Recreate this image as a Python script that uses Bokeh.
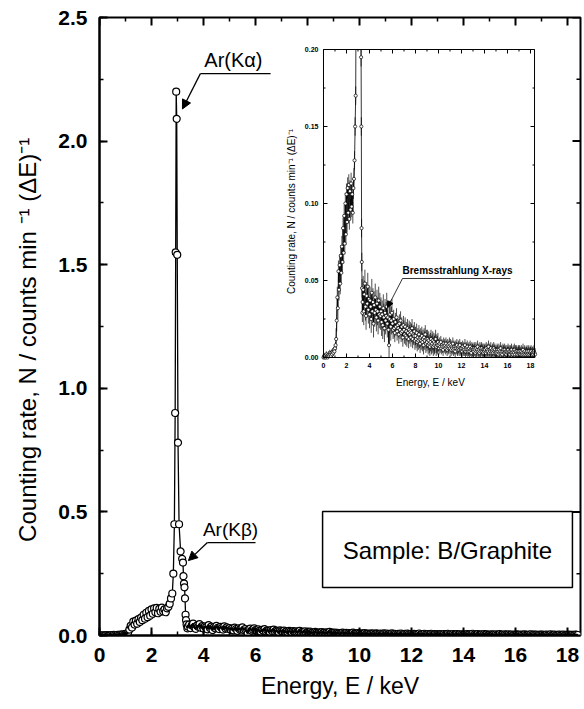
import numpy as np
from bokeh.plotting import figure
from bokeh.models import (Range1d, SingleIntervalTicker, NumeralTickFormatter,
                          Label, Arrow, NormalHead, BoxAnnotation, ColumnDataSource)
from bokeh.core.properties import value
from bokeh.embed import file_html
from bokeh.resources import INLINE

FONT = "Liberation Sans"

# ---------------- data ----------------
# 0.05 keV channels, 0.00 - 2.65 keV
rate_grid_low = [
    0.000, 0.001, 0.000, 0.001, 0.000, 0.002, 0.001, 0.000, 0.001, 0.002, 0.001,
    0.003, 0.002, 0.001, 0.003, 0.002, 0.004, 0.003, 0.005, 0.004, 0.006, 0.008,
    0.012, 0.024, 0.039, 0.032, 0.056, 0.044, 0.060, 0.048, 0.066, 0.055, 0.072,
    0.062, 0.084, 0.068, 0.092, 0.074, 0.100, 0.080, 0.106, 0.088, 0.110, 0.094,
    0.112, 0.090, 0.108, 0.096, 0.113, 0.098, 0.106, 0.094, 0.110, 0.116,
]
energy_grid_low = [round(0.05 * i, 2) for i in range(len(rate_grid_low))]

# Ar K-alpha / K-beta region (irregular channels)
energy_peak = [2.70, 2.75, 2.80, 2.84, 2.88, 2.91, 2.93, 2.95, 2.97, 2.99, 3.02, 3.06,
               3.12, 3.18, 3.21, 3.23, 3.25, 3.27, 3.29, 3.31, 3.33, 3.35, 3.38]
rate_peak = [0.128, 0.150, 0.170, 0.250, 0.450, 0.900, 1.550, 2.200, 2.090, 1.540, 0.780, 0.450,
             0.340, 0.310, 0.295, 0.240, 0.210, 0.195, 0.150, 0.084, 0.062, 0.045, 0.029]

# 0.05 keV channels from 3.40 keV upward (Bremsstrahlung continuum)
rate_high = [
    0.036, 0.044, 0.030, 0.041, 0.048, 0.033, 0.027, 0.040, 0.035, 0.046, 0.031, 0.038,  # 3.40-3.95
    0.028, 0.037, 0.033, 0.025, 0.042, 0.030, 0.036, 0.022, 0.034, 0.029,
    0.039, 0.031, 0.026, 0.035, 0.030, 0.024, 0.037, 0.028, 0.033, 0.027,  # 4.x
    0.030, 0.023, 0.028, 0.021, 0.032, 0.026, 0.019, 0.029, 0.024, 0.027,
    0.033, 0.022, 0.026, 0.018, 0.008, 0.025, 0.028, 0.020, 0.024, 0.029,  # 5.x
    0.022, 0.018, 0.025, 0.019, 0.016, 0.023, 0.020, 0.026, 0.017, 0.021,
    0.019, 0.015, 0.022, 0.018, 0.024, 0.016, 0.020, 0.017, 0.013, 0.021,  # 6.x
    0.018, 0.015, 0.020, 0.014, 0.017, 0.013, 0.019, 0.016, 0.012, 0.018,
    0.015, 0.017, 0.013, 0.016, 0.019, 0.012, 0.015, 0.014, 0.017, 0.011,  # 7.x
    0.014, 0.012, 0.016, 0.010, 0.013, 0.011, 0.015, 0.012, 0.009, 0.013,
    0.011, 0.014, 0.010, 0.012, 0.008, 0.013, 0.011, 0.015, 0.009, 0.012,  # 8.x
    0.010, 0.012, 0.008, 0.011, 0.009, 0.007, 0.010, 0.012, 0.008, 0.009,
    0.011, 0.007, 0.010, 0.008, 0.009, 0.012, 0.007, 0.009, 0.008, 0.010,  # 9.x
    0.008, 0.006, 0.009, 0.007, 0.010, 0.006, 0.008, 0.007, 0.005, 0.009,
    0.007, 0.008, 0.006, 0.009, 0.007, 0.005, 0.008, 0.006, 0.007, 0.009,  # 10.x
    0.006, 0.008, 0.005, 0.007, 0.006, 0.009, 0.005, 0.007, 0.006, 0.004,
    0.007, 0.006, 0.008, 0.005, 0.006, 0.007, 0.005, 0.008, 0.006, 0.005,  # 11.x
    0.006, 0.004, 0.007, 0.005, 0.006, 0.005, 0.008, 0.004, 0.006, 0.005,
    0.007, 0.004, 0.005, 0.006, 0.004, 0.007, 0.005, 0.003, 0.006, 0.005,  # 12.x
    0.005, 0.004, 0.006, 0.005, 0.003, 0.006, 0.004, 0.005, 0.007, 0.004,
    0.005, 0.003, 0.006, 0.004, 0.005, 0.006, 0.004, 0.005, 0.003, 0.005,  # 13.x
    0.004, 0.005, 0.003, 0.006, 0.004, 0.005, 0.004, 0.007, 0.003, 0.005,
    0.004, 0.006, 0.003, 0.004, 0.005, 0.003, 0.006, 0.004, 0.005, 0.003,  # 14.x
    0.004, 0.003, 0.005, 0.004, 0.002, 0.005, 0.003, 0.004, 0.006, 0.003,
    0.004, 0.002, 0.005, 0.004, 0.003, 0.005, 0.003, 0.004, 0.002, 0.004,  # 15.x
    0.003, 0.005, 0.003, 0.004, 0.002, 0.004, 0.003, 0.005, 0.003, 0.002,
    0.004, 0.003, 0.005, 0.002, 0.004, 0.003, 0.004, 0.002, 0.003, 0.004,  # 16.x
    0.003, 0.004, 0.002, 0.003, 0.004, 0.002, 0.003, 0.005, 0.002, 0.003,
    0.004, 0.002, 0.003, 0.003, 0.004, 0.002, 0.003, 0.004, 0.002, 0.003,  # 17.x
    0.003, 0.004, 0.002, 0.003, 0.003, 0.002, 0.004, 0.003, 0.002,         # 18.00-18.40
]
energy_high = [round(3.4 + 0.05 * i, 2) for i in range(len(rate_high))]

# inset error-bar half widths, by energy band
err_edges = [0.0, 1.08, 2.68, 3.39, 6.0, 10.0, 18.5]
err_values = [0.002, 0.007, 0.006, 0.009, 0.006, 0.004]

main_x_major = [0, 2, 4, 6, 8, 10, 12, 14, 16, 18]
main_x_minor = [1, 3, 5, 7, 9, 11, 13, 15, 17]
main_y_major = [0.0, 0.5, 1.0, 1.5, 2.0, 2.5]
main_y_minor = [0.25, 0.75, 1.25, 1.75, 2.25]
inset_x_ticks = [0, 2, 4, 6, 8, 10, 12, 14, 16, 18]
inset_y_ticks = [0.00, 0.05, 0.10, 0.15, 0.20]
inset_y_labels = ["0.00", "0.05", "0.10", "0.15", "0.20"]

E = np.array(energy_grid_low + energy_peak + energy_high, dtype=float)
R = np.array(rate_grid_low + rate_peak + rate_high, dtype=float)

# ---------------- main figure ----------------
X0, X1, Y0, Y1 = 0, 18.5, 0, 2.5
p = figure(width=584, height=709, x_range=Range1d(X0, X1), y_range=Range1d(Y0, Y1),
           output_backend="svg", toolbar_location=None,
           min_border_left=99, min_border_right=4, min_border_top=17, min_border_bottom=74,
           background_fill_color="white", border_fill_color="white")
p.grid.visible = False
p.outline_line_color = "black"
p.outline_line_width = 2

for ax in (p.xaxis[0], p.yaxis[0]):
    ax.axis_line_width = 2
    ax.major_tick_line_width = 2
    ax.minor_tick_line_width = 1.5
    ax.major_tick_in = 8
    ax.major_tick_out = 0
    ax.minor_tick_in = 4
    ax.minor_tick_out = 0
    ax.major_label_text_font = FONT
    ax.major_label_text_font_style = "bold"
    ax.major_label_text_font_size = "21px"
    ax.major_label_text_color = "black"
    ax.axis_label_text_font = FONT
    ax.axis_label_text_font_style = "normal"
    ax.axis_label_text_color = "black"

p.xaxis.ticker = SingleIntervalTicker(interval=2, num_minor_ticks=2)
p.yaxis.ticker = SingleIntervalTicker(interval=0.5, num_minor_ticks=2)
p.yaxis.formatter = NumeralTickFormatter(format="0.0")
p.xaxis.major_label_standoff = 12
p.xaxis.axis_label_standoff = 8
p.yaxis.major_label_standoff = 12
p.yaxis.axis_label_standoff = 14
p.xaxis.axis_label_text_font_size = "23px"
p.yaxis.axis_label_text_font_size = "24px"
p.xaxis.axis_label = "Energy, E / keV"
p.yaxis.axis_label = "Counting rate, N / counts min \u207b\u00b9 (\u0394E)\u207b\u00b9\u00a0\u00a0\u00a0\u00a0"

# mirror ticks on top and right edges (inward)
tx_maj = np.array(main_x_major, float); tx_min = np.array(main_x_minor, float)
ty_maj = np.array(main_y_major, float); ty_min = np.array(main_y_minor, float)
dy8, dy4 = 8 / 247.2, 4 / 247.2
dx8, dx4 = 8 / 26.0, 4 / 26.0
p.segment(tx_maj, Y1 + 0 * tx_maj, tx_maj, Y1 - dy8 + 0 * tx_maj, line_color="black", line_width=2)
p.segment(tx_min, Y1 + 0 * tx_min, tx_min, Y1 - dy4 + 0 * tx_min, line_color="black", line_width=1.5)
p.segment(X1 + 0 * ty_maj, ty_maj, X1 - dx8 + 0 * ty_maj, ty_maj, line_color="black", line_width=2)
p.segment(X1 + 0 * ty_min, ty_min, X1 - dx4 + 0 * ty_min, ty_min, line_color="black", line_width=1.5)

src = ColumnDataSource(dict(e=E, r=R))
p.line("e", "r", source=src, line_color="black", line_width=1.3)
p.scatter("e", "r", source=src, marker="circle", size=7, fill_color="white",
          line_color="black", line_width=1.2)
# dense channels (baseline and continuum) are drawn over with the connecting line
dense_lo = E <= 1.1
dense_hi = E >= 3.38
p.line(E[dense_lo], R[dense_lo], line_color="black", line_width=2.5)
p.line(E[dense_hi], R[dense_hi], line_color="black", line_width=2)

# peak annotations
p.add_layout(Label(x=5.15, y=2.284, text="Ar(K\u03b1)", text_align="center",
                   text_baseline="bottom", text_font=FONT, text_font_size="20px",
                   text_color="black"))
p.add_layout(Arrow(end=None, x_start=3.88, y_start=2.273, x_end=6.58, y_end=2.273,
                   line_width=1.3, line_color="black"))
p.add_layout(Arrow(end=NormalHead(size=9, fill_color="black", line_color="black"),
                   x_start=3.88, y_start=2.273, x_end=3.19, y_end=2.13,
                   line_width=1.3, line_color="black"))

p.add_layout(Label(x=5.04, y=0.386, text="Ar(K\u03b2)", text_align="center",
                   text_baseline="bottom", text_font=FONT, text_font_size="19px",
                   text_color="black"))
p.add_layout(Arrow(end=None, x_start=4.15, y_start=0.376, x_end=6.0, y_end=0.376,
                   line_width=1.3, line_color="black"))
p.add_layout(Arrow(end=NormalHead(size=9, fill_color="black", line_color="black"),
                   x_start=4.15, y_start=0.376, x_end=3.42, y_end=0.303,
                   line_width=1.3, line_color="black"))

# sample box
p.add_layout(BoxAnnotation(left=8.58, right=18.19, bottom=0.194, top=0.502,
                           fill_alpha=0, line_color="black", line_alpha=1, line_width=1.5))
p.add_layout(Label(x=13.38, y=0.345, text="Sample: B/Graphite", text_align="center",
                   text_baseline="middle", text_font=FONT, text_font_size="24px",
                   text_color="black"))

# ---------------- inset (drawn on extra ranges inside the main frame) ----------------
IX_MAX, IY_MAX = 18.35, 0.20
p.extra_x_ranges = {"ix": Range1d(-19.478, 22.348)}
p.extra_y_ranges = {"iy": Range1d(-0.18052, 0.22078)}
IR = dict(x_range_name="ix", y_range_name="iy")


def clip_segments(x, y, ymax):
    xs0, ys0, xs1, ys1 = [], [], [], []
    for i in range(len(x) - 1):
        xa, ya, xb, yb = x[i], y[i], x[i + 1], y[i + 1]
        if ya > ymax and yb > ymax:
            continue
        nxa, nya, nxb, nyb = xa, ya, xb, yb
        if ya > ymax:
            nxa = xa + (xb - xa) * (ymax - ya) / (yb - ya)
            nya = ymax
        if yb > ymax:
            nxb = xa + (xb - xa) * (ymax - ya) / (yb - ya)
            nyb = ymax
        xs0.append(nxa); ys0.append(nya); xs1.append(nxb); ys1.append(nyb)
    return xs0, ys0, xs1, ys1


sx0, sy0, sx1, sy1 = clip_segments(E, R, IY_MAX)
p.segment(sx0, sy0, sx1, sy1, line_color="black", line_width=0.8, **IR)

err = np.array([err_values[np.searchsorted(err_edges, e, side="right") - 1] for e in E])
vis = R <= IY_MAX
p.segment(E[vis], np.clip(R[vis] - err[vis], 0, IY_MAX), E[vis],
          np.clip(R[vis] + err[vis], 0, IY_MAX), line_color="black", line_width=0.7, **IR)
p.scatter(E[vis], R[vis], marker="circle", size=3.2, fill_color="white",
          line_color="black", line_width=0.7, **IR)

# inset frame
p.segment([0, 0, 0, IX_MAX], [0, IY_MAX, 0, 0], [IX_MAX, IX_MAX, 0, IX_MAX],
          [0, IY_MAX, IY_MAX, IY_MAX], line_color="black", line_width=1, **IR)

# inset ticks (inward)
xt_major = np.array(inset_x_ticks, dtype=float)
xt_minor = np.array([t + 1 for t in inset_x_ticks if t + 1 < IX_MAX], dtype=float)
ylen_major, ylen_minor = 4 / 1540, 2 / 1540
p.segment(xt_major, 0 * xt_major, xt_major, 0 * xt_major + ylen_major, line_color="black", line_width=1, **IR)
p.segment(xt_major, 0 * xt_major + IY_MAX, xt_major, 0 * xt_major + IY_MAX - ylen_major, line_color="black", line_width=1, **IR)
p.segment(xt_minor, 0 * xt_minor, xt_minor, 0 * xt_minor + ylen_minor, line_color="black", line_width=1, **IR)
p.segment(xt_minor, 0 * xt_minor + IY_MAX, xt_minor, 0 * xt_minor + IY_MAX - ylen_minor, line_color="black", line_width=1, **IR)

yt_major = np.array(inset_y_ticks, dtype=float)
yt_minor = np.array([t + 0.025 for t in inset_y_ticks[:-1]], dtype=float)
xlen_major, xlen_minor = 4 / 11.5, 2 / 11.5
p.segment(0 * yt_major, yt_major, 0 * yt_major + xlen_major, yt_major, line_color="black", line_width=1, **IR)
p.segment(0 * yt_major + IX_MAX, yt_major, 0 * yt_major + IX_MAX - xlen_major, yt_major, line_color="black", line_width=1, **IR)
p.segment(0 * yt_minor, yt_minor, 0 * yt_minor + xlen_minor, yt_minor, line_color="black", line_width=1, **IR)
p.segment(0 * yt_minor + IX_MAX, yt_minor, 0 * yt_minor + IX_MAX - xlen_minor, yt_minor, line_color="black", line_width=1, **IR)

# inset tick labels
p.text(xt_major, 0 * xt_major, text=[str(int(t)) for t in inset_x_ticks], y_offset=5,
       text_align="center", text_baseline="top", text_font=value(FONT),
       text_font_style="bold", text_font_size="7px", text_color="black", **IR)
p.text(0 * yt_major, yt_major, text=inset_y_labels, x_offset=-5,
       text_align="right", text_baseline="middle", text_font=value(FONT),
       text_font_style="bold", text_font_size="7px", text_color="black", **IR)

# inset axis titles
p.add_layout(Label(x=9.3, y=-0.0162, text="Energy, E / keV", text_align="center",
                   text_baseline="middle", text_font=FONT, text_font_size="10px",
                   text_color="black", **IR))
p.add_layout(Label(x=-2.78, y=0.0948,
                   text="Counting rate, N / counts min\u207b\u00b9 (\u0394E)\u207b\u00b9",
                   angle=np.pi / 2, text_align="center", text_baseline="middle",
                   text_font=FONT, text_font_size="10px", text_color="black", **IR))

# Bremsstrahlung annotation
p.add_layout(Label(x=6.87, y=0.0528, text="Bremsstrahlung X-rays", text_align="left",
                   text_baseline="bottom", text_font=FONT, text_font_style="bold",
                   text_font_size="10px", text_color="black", **IR))
p.add_layout(Arrow(end=None, x_start=6.87, y_start=0.0513, x_end=16.26, y_end=0.0513,
                   line_width=0.8, line_color="black", **IR))
p.add_layout(Arrow(end=NormalHead(size=6, fill_color="black", line_color="black"),
                   x_start=6.87, y_start=0.0513, x_end=5.57, y_end=0.0325,
                   line_width=0.8, line_color="black", **IR))

open("out.html", "w").write(file_html(p, INLINE))
